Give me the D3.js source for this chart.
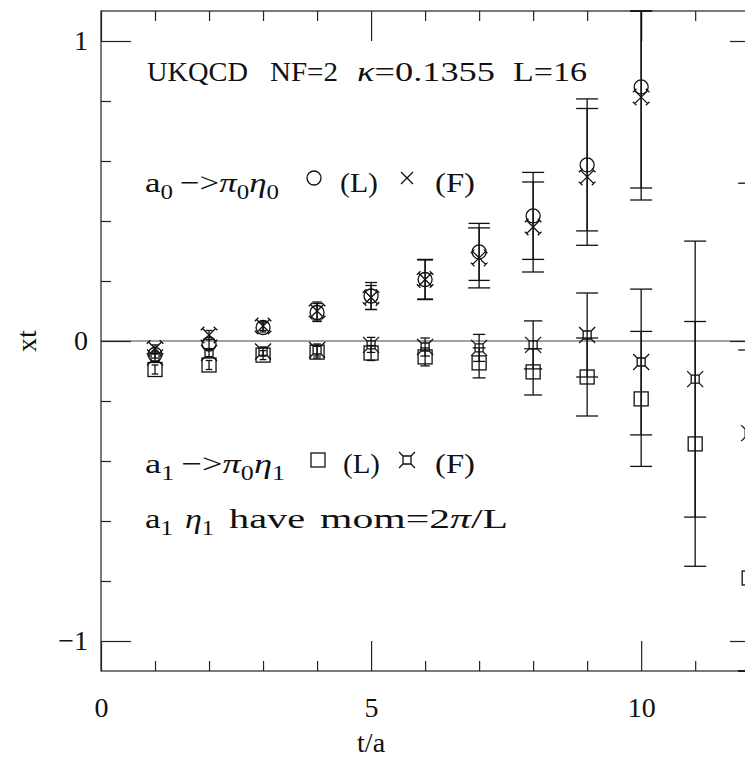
<!DOCTYPE html>
<html>
<head>
<meta charset="utf-8">
<script src="https://cdn.jsdelivr.net/npm/d3@7"></script>
<style>
  body { margin: 0; background: #fff; }
  svg { display: block; }
  text { font-family: "Liberation Serif", "DejaVu Serif", serif; fill: #111; }
</style>
</head>
<body>
<div id="chart"></div>
<script>
// a0 -> pi0 eta0, local (L) and fuzzed (F)
const tA0 = [1, 2, 3, 4, 5, 6, 7, 8, 9, 10];
const a0L = [-0.045, -0.01, 0.045, 0.095, 0.15, 0.205, 0.297, 0.417, 0.587, 0.847];
const a0LErr = [0.012, 0.015, 0.015, 0.03, 0.045, 0.067, 0.095, 0.145, 0.22, 0.337];
const a0F = [-0.025, 0.02, 0.05, 0.1, 0.145, 0.205, 0.277, 0.38, 0.547, 0.813];
const a0FErr = [0.012, 0.015, 0.015, 0.03, 0.04, 0.065, 0.1, 0.15, 0.228, 0.343];

// a1 -> pi0 eta1, local (L) and fuzzed (F)
const tA1 = [1, 2, 3, 4, 5, 6, 7, 8, 9, 10, 11, 12];
const a1L = [-0.095, -0.08, -0.047, -0.037, -0.04, -0.053, -0.073, -0.103, -0.12, -0.193, -0.343, -0.79];
const a1LErr = [0.015, 0.015, 0.015, 0.02, 0.025, 0.03, 0.05, 0.077, 0.13, 0.225, 0.408, 0.76];
const a1F = [-0.055, -0.04, -0.035, -0.03, -0.013, -0.02, -0.023, -0.013, 0.02, -0.07, -0.127, -0.307];
const a1FErr = [0.012, 0.012, 0.015, 0.02, 0.025, 0.03, 0.045, 0.08, 0.14, 0.243, 0.46, 0.833];

const xMajorTicks = [0, 5, 10];
const xMinorTicks = [1, 2, 3, 4, 6, 7, 8, 9, 11, 12];
const yMajorTicks = [-1, 0, 1];
const yMinorTicks = [-0.8, -0.6, -0.4, -0.2, 0.2, 0.4, 0.6, 0.8];

const W = 745, H = 757;
const x = d3.scaleLinear().domain([0, 12.2]).range([101, 760]);
const y = d3.scaleLinear().domain([-1.1, 1.1]).range([671, 11]);

const svg = d3.select("#chart").append("svg")
  .attr("width", W)
  .attr("height", H);

// frame
svg.append("rect")
  .attr("x", x(0)).attr("y", y(1.1))
  .attr("width", x(12.2) - x(0)).attr("height", y(-1.1) - y(1.1))
  .attr("fill", "none").attr("stroke", "#222").attr("stroke-width", 1.2);

// zero line
svg.append("line")
  .attr("x1", x(0)).attr("x2", x(12.2))
  .attr("y1", y(0)).attr("y2", y(0))
  .attr("stroke", "#444").attr("stroke-width", 1.2);

function addAxis(gen, tr) {
  const g = svg.append("g").attr("transform", tr).call(gen);
  g.select(".domain").remove();
  g.selectAll("line").attr("stroke", "#222").attr("stroke-width", 1.2);
  g.attr("font-family", null).attr("font-size", null);
  g.selectAll("text").style("font-size", "28px");
  return g;
}

// bottom / top
addAxis(d3.axisBottom(x).tickValues(xMinorTicks).tickSize(-10).tickFormat(""), `translate(0,${y(-1.1)})`);
addAxis(d3.axisBottom(x).tickValues(xMajorTicks).tickSize(-30).tickPadding(26).tickFormat(d3.format("d")), `translate(0,${y(-1.1)})`);
addAxis(d3.axisTop(x).tickValues(xMinorTicks).tickSize(-10).tickFormat(""), `translate(0,${y(1.1)})`);
addAxis(d3.axisTop(x).tickValues(xMajorTicks).tickSize(-30).tickFormat(""), `translate(0,${y(1.1)})`);
// left / right
addAxis(d3.axisLeft(y).tickValues(yMinorTicks).tickSize(-10).tickFormat(""), `translate(${x(0)},0)`);
addAxis(d3.axisLeft(y).tickValues(yMajorTicks).tickSize(-30).tickPadding(13).tickFormat(d3.format("d")), `translate(${x(0)},0)`);
addAxis(d3.axisRight(y).tickValues(yMinorTicks).tickSize(-10).tickFormat(""), `translate(${x(12.2)},0)`);
addAxis(d3.axisRight(y).tickValues(yMajorTicks).tickSize(-30).tickFormat(""), `translate(${x(12.2)},0)`);

// axis titles
svg.append("text")
  .attr("x", x(5)).attr("y", 752)
  .attr("text-anchor", "middle")
  .style("font-size", "28px")
  .text("t/a");
svg.append("text")
  .attr("transform", `translate(36,${y(0)}) rotate(-90)`)
  .attr("text-anchor", "middle")
  .style("font-size", "28px")
  .text("xt");

// symbols
function drawSymbol(g, kind) {
  const st = (s) => s.attr("fill", "none").attr("stroke", "#111").attr("stroke-width", 1.3);
  if (kind === "circle") {
    st(g.append("circle").attr("r", 7));
  } else if (kind === "cross") {
    const a = 6.5, s = 1.8;
    st(g.append("path").attr("d",
      `M${-a},${-a}L${a},${a}M${-a},${a}L${a},${-a}` +
      `M${a - s},${a + s}L${a + s},${a - s}M${-a - s},${-a + s}L${-a + s},${-a - s}` +
      `M${a - s},${-a - s}L${a + s},${-a + s}M${-a - s},${a - s}L${-a + s},${a + s}`));
  } else if (kind === "plainCross") {
    st(g.append("path").attr("d", "M-6,-6L6,6M-6,6L6,-6"));
  } else if (kind === "square") {
    st(g.append("rect").attr("x", -7).attr("y", -7).attr("width", 14).attr("height", 14));
  } else if (kind === "star") {
    st(g.append("path").attr("d",
      "M-4,-4H4V4H-4Z M-4,-4L-8,-8 M4,-4L8,-8 M4,4L8,8 M-4,4L-8,8"));
  }
}

function drawSeries(ts, vals, errs, kind) {
  const clamp = (v) => Math.max(-1.1, Math.min(1.1, v));
  const rows = ts.map((t, i) => ({ t: t, v: vals[i], e: errs[i] }));
  const g = svg.append("g");
  rows.forEach(d => {
    const cx = x(d.t);
    const yHi = y(clamp(d.v + d.e)), yLo = y(clamp(d.v - d.e));
    const errPx = y(0) - y(d.e);
    const hw = Math.min(11, 2 + 0.3 * errPx);
    g.append("line").attr("x1", cx).attr("x2", cx).attr("y1", yHi).attr("y2", yLo)
      .attr("stroke", "#111").attr("stroke-width", 1.3);
    [yHi, yLo].forEach(yy => {
      g.append("line").attr("x1", cx - hw).attr("x2", cx + hw).attr("y1", yy).attr("y2", yy)
        .attr("stroke", "#111").attr("stroke-width", 1.3);
    });
    const m = g.append("g").attr("transform", `translate(${cx},${y(d.v)})`);
    drawSymbol(m, kind);
  });
}

drawSeries(tA1, a1L, a1LErr, "square");
drawSeries(tA1, a1F, a1FErr, "star");
drawSeries(tA0, a0L, a0LErr, "circle");
drawSeries(tA0, a0F, a0FErr, "cross");

// text pieces: parts are [string, kind] where kind is "sub", "it" or nothing
function piece(px, py, parts, len) {
  const t = svg.append("text").attr("x", px).attr("y", py).style("font-size", "28px");
  if (len) t.attr("textLength", len).attr("lengthAdjust", "spacingAndGlyphs");
  let down = false;
  parts.forEach(([s, kind]) => {
    const sp = t.append("tspan").text(s);
    if (kind === "sub") {
      sp.style("font-size", "20px");
      if (!down) { sp.attr("dy", 7); down = true; }
    } else {
      if (down) { sp.attr("dy", -7); down = false; }
      if (kind === "it") sp.style("font-style", "italic");
    }
  });
  return t;
}

// header
piece(147, 81, [["UKQCD"]], 101);
piece(270, 81, [["NF=2"]], 68);
piece(357, 81, [["\u03ba", "it"], ["=0.1355"]], 138);
piece(513, 81, [["L=16"]], 74);

// a0 legend line
piece(145, 192, [["a"], ["0", "sub"], ["\u2009\u2212>"], ["\u03c0", "it"], ["0", "sub"], ["\u03b7", "it"], ["0", "sub"]], 134);
drawSymbol(svg.append("g").attr("transform", "translate(314,178)"), "circle");
piece(340, 192, [["(L)"]], 38);
drawSymbol(svg.append("g").attr("transform", "translate(407,178)"), "plainCross");
piece(435, 192, [["(F)"]], 40);

// a1 legend line
piece(145, 473, [["a"], ["1", "sub"], ["\u2009\u2212>"], ["\u03c0", "it"], ["0", "sub"], ["\u03b7", "it"], ["1", "sub"]], 140);
drawSymbol(svg.append("g").attr("transform", "translate(318,460)"), "square");
piece(343, 473, [["(L)"]], 37);
drawSymbol(svg.append("g").attr("transform", "translate(407,460)"), "star");
piece(435, 473, [["(F)"]], 40);

// momentum note
piece(145, 528, [["a"], ["1", "sub"]], 28);
piece(185, 528, [["\u03b7", "it"], ["1", "sub"]], 29);
piece(229, 528, [["have"]], 76);
piece(320, 528, [["mom=2"], ["\u03c0", "it"], ["/L"]], 188);
</script>
</body>
</html>
